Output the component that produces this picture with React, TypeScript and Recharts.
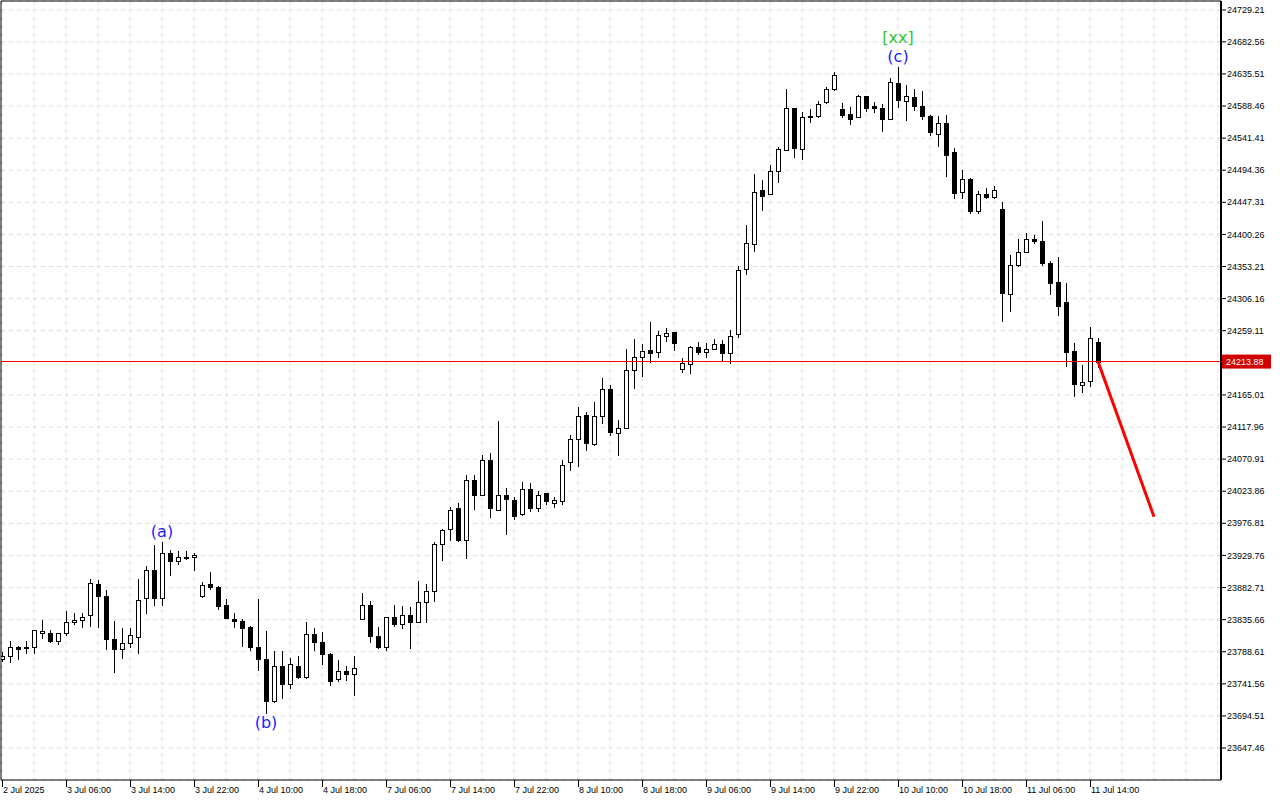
import { ComposedChart, Bar, Line, XAxis, YAxis, CartesianGrid, ReferenceLine, ReferenceDot } from "recharts";

// H1 bars, 2 Jul 2025 22:00 .. 11 Jul 2025 15:00
const OPEN = [
  23778, 23782, 23796, 23794, 23796, 23816, 23816, 23805, 23816, 23832,
  23835, 23842, 23888, 23871, 23807, 23792, 23801, 23810, 23868, 23909,
  23868, 23933, 23921, 23928, 23927, 23871, 23888, 23884, 23857, 23836,
  23834, 23825, 23795, 23778, 23717, 23767, 23741, 23768, 23752, 23814,
  23803, 23785, 23748, 23761, 23756, 23837, 23857, 23811, 23796, 23840,
  23829, 23842, 23832, 23862, 23878, 23947, 23969, 23999, 23952, 24041,
  24019, 24070, 23997, 24019, 24011, 23991, 24027, 23999, 24021, 24007,
  24010, 24066, 24100, 24136, 24093, 24134, 24174, 24109, 24117, 24201,
  24220, 24231, 24228, 24251, 24257, 24203, 24211, 24235, 24228, 24233,
  24239, 24227, 24254, 24349, 24386, 24465, 24459, 24493, 24524, 24585,
  24526, 24573, 24574, 24594, 24613, 24584, 24577, 24572, 24603, 24588,
  24585, 24570, 24622, 24596, 24602, 24589, 24574, 24548, 24563, 24521,
  24463, 24482, 24434, 24460, 24455, 24438, 24313, 24355, 24374, 24393,
  24391, 24359, 24330, 24301, 24229, 24179, 24186, 24242,
];
const HIGH = [
  23788, 23804, 23797, 23804, 23820, 23835, 23821, 23816, 23848, 23846,
  23846, 23895, 23894, 23879, 23834, 23824, 23824, 23895, 23914, 23945,
  23949, 23938, 23936, 23936, 23933, 23891, 23905, 23885, 23866, 23845,
  23836, 23827, 23866, 23819, 23790, 23790, 23779, 23783, 23832, 23823,
  23818, 23787, 23777, 23768, 23783, 23875, 23863, 23825, 23840, 23857,
  23856, 23854, 23892, 23888, 23949, 23969, 24001, 24006, 24047, 24047,
  24077, 24080, 24127, 24028, 24015, 24037, 24036, 24024, 24021, 24016,
  24070, 24106, 24147, 24140, 24154, 24190, 24180, 24128, 24233, 24247,
  24240, 24272, 24259, 24263, 24257, 24219, 24237, 24243, 24241, 24247,
  24245, 24260, 24354, 24414, 24489, 24480, 24502, 24529, 24613, 24585,
  24579, 24584, 24596, 24617, 24638, 24593, 24587, 24605, 24603, 24594,
  24591, 24630, 24645, 24619, 24613, 24610, 24575, 24574, 24576, 24527,
  24494, 24483, 24464, 24469, 24471, 24448, 24370, 24393, 24402, 24400,
  24420, 24361, 24367, 24329, 24241, 24209, 24265, 24248,
];
const LOW = [
  23773, 23772, 23777, 23786, 23786, 23808, 23801, 23799, 23812, 23828,
  23824, 23825, 23824, 23791, 23758, 23778, 23794, 23785, 23844, 23856,
  23856, 23900, 23915, 23923, 23907, 23867, 23879, 23850, 23838, 23824,
  23796, 23790, 23761, 23698, 23714, 23720, 23734, 23748, 23748, 23790,
  23769, 23739, 23744, 23746, 23723, 23837, 23801, 23792, 23790, 23825,
  23822, 23793, 23832, 23830, 23862, 23922, 23951, 23949, 23925, 23997,
  24019, 23984, 23997, 23959, 23982, 23987, 23994, 23994, 24004, 24000,
  24004, 24053, 24060, 24083, 24090, 24123, 24105, 24076, 24117, 24174,
  24191, 24212, 24219, 24242, 24230, 24197, 24195, 24223, 24219, 24231,
  24215, 24211, 24248, 24341, 24375, 24434, 24459, 24476, 24522, 24513,
  24510, 24564, 24571, 24591, 24610, 24571, 24561, 24572, 24579, 24578,
  24551, 24569, 24585, 24566, 24581, 24568, 24544, 24529, 24485, 24452,
  24452, 24430, 24430, 24452, 24452, 24272, 24287, 24353, 24373, 24386,
  24354, 24311, 24281, 24206, 24162, 24168, 24177, 24204,
];
const CLOSE = [
  23782, 23795, 23793, 23795, 23820, 23819, 23805, 23816, 23832, 23835,
  23839, 23889, 23871, 23808, 23792, 23802, 23813, 23865, 23909, 23867,
  23933, 23921, 23928, 23926, 23930, 23887, 23883, 23856, 23838, 23833,
  23824, 23795, 23778, 23717, 23767, 23741, 23770, 23752, 23814, 23803,
  23785, 23746, 23761, 23756, 23765, 23857, 23811, 23796, 23840, 23829,
  23842, 23832, 23862, 23878, 23947, 23967, 23997, 23952, 24041, 24019,
  24070, 23999, 24019, 24012, 23987, 24027, 23999, 24019, 24009, 24011,
  24063, 24101, 24134, 24095, 24134, 24173, 24110, 24116, 24201, 24220,
  24230, 24227, 24253, 24256, 24241, 24212, 24235, 24228, 24233, 24239,
  24227, 24251, 24348, 24387, 24463, 24457, 24493, 24525, 24585, 24527,
  24572, 24574, 24592, 24613, 24634, 24576, 24570, 24603, 24586, 24586,
  24570, 24623, 24597, 24603, 24589, 24574, 24550, 24564, 24517, 24461,
  24482, 24434, 24459, 24455, 24465, 24314, 24356, 24374, 24393, 24390,
  24359, 24329, 24295, 24228, 24181, 24184, 24248, 24213.88,
];

// one label every 8 bars
const TIME_LABELS = [
  "2 Jul 2025", "3 Jul 06:00", "3 Jul 14:00", "3 Jul 22:00", "4 Jul 10:00", "4 Jul 18:00",
  "7 Jul 06:00", "7 Jul 14:00", "7 Jul 22:00", "8 Jul 10:00", "8 Jul 18:00", "9 Jul 06:00",
  "9 Jul 14:00", "9 Jul 22:00", "10 Jul 10:00", "10 Jul 18:00", "11 Jul 06:00", "11 Jul 14:00",
];

const PRICE_TICKS = [
  24729.21, 24682.56, 24635.51, 24588.46, 24541.41, 24494.36, 24447.31, 24400.26,
  24353.21, 24306.16, 24259.11, 24165.01, 24117.96, 24070.91, 24023.86, 23976.81,
  23929.76, 23882.71, 23835.66, 23788.61, 23741.56, 23694.51, 23647.46,
];
const LAST_PRICE = 24213.88;

const FORECAST = [
  { i: 137, v: 24213.88 },
  { i: 144, v: 23986.5 },
];

const WAVE_LABELS = [
  { i: 20, text: "(a)", kind: "wave", below: false, stack: 0 },
  { i: 33, text: "(b)", kind: "wave", below: true, stack: 0 },
  { i: 112, text: "(c)", kind: "wave", below: false, stack: 0 },
  { i: 112, text: "[xx]", kind: "major", below: false, stack: 1 },
];

const X_MIN = -0.125;
const X_MAX = 152.375;
const Y_MIN = 23600.6;
const Y_MAX = 24742.4;

const X_TICKS = Array.from({ length: 39 }, (_, k) => k * 4);

const data = OPEN.map((o, i) => ({ i, open: o, high: HIGH[i], low: LOW[i], close: CLOSE[i] }));

const AXIS_FONT = "'Liberation Sans', Arial, sans-serif";

function Candle(props: any) {
  const { x, y, width, height, payload } = props;
  if (!payload || x == null) return null;
  const { open, close, high, low } = payload;
  const top = Math.min(y, y + height);
  const span = Math.abs(height);
  const k = high === low ? 0 : span / (high - low);
  const cx = Math.round(x + width / 2);
  const py = (v: number) => top + (high - v) * k;
  const bodyTop = Math.round(py(Math.max(open, close)));
  const bodyBot = Math.round(py(Math.min(open, close)));
  const up = close >= open;
  return (
    <g shapeRendering="crispEdges">
      <line x1={cx + 0.5} x2={cx + 0.5} y1={Math.round(top)} y2={Math.round(top + span)} stroke="#000" />
      <rect
        x={cx - 1.5}
        y={bodyTop + 0.5}
        width={4}
        height={Math.max(bodyBot - bodyTop, 1)}
        fill={up ? "#fff" : "#000"}
        stroke="#000"
      />
    </g>
  );
}

function TimeTick(props: any) {
  const { x, y, payload } = props;
  if (payload.value % 8 !== 0) return <g />;
  const label = TIME_LABELS[payload.value / 8];
  if (!label) return <g />;
  return (
    <g>
      <line x1={x + 0.5} x2={x + 0.5} y1={y} y2={y + 7} stroke="#000" shapeRendering="crispEdges" />
      <text x={x + 1} y={y + 13} fontSize={9} fontFamily={AXIS_FONT} fill="#000">
        {label}
      </text>
    </g>
  );
}

function PriceTick(props: any) {
  const { x, y, payload } = props;
  const v = payload.value as number;
  if (v === LAST_PRICE) {
    return (
      <g>
        <rect x={x + 1} y={y - 7} width={49} height={14} fill="#d00000" />
        <text x={x + 5} y={y} dy="0.35em" fontSize={9} fontFamily={AXIS_FONT} fill="#fff">
          {v.toFixed(2)}
        </text>
      </g>
    );
  }
  return (
    <g>
      <line x1={x} x2={x + 5} y1={y} y2={y} stroke="#000" />
      <text x={x + 6} y={y} dy="0.35em" fontSize={9} fontFamily={AXIS_FONT} fill="#000">
        {v.toFixed(2)}
      </text>
    </g>
  );
}

export default function App() {
  return (
    <div style={{ position: "absolute", left: 0, top: 0, width: 1280, height: 800, background: "#fff" }}>
      <ComposedChart width={1280} height={800} data={data} margin={{ top: 1, right: 0, bottom: 0, left: 1 }}>
        <CartesianGrid stroke="#dedede" strokeDasharray="4 4" />
        <XAxis
          dataKey="i"
          type="number"
          domain={[X_MIN, X_MAX]}
          ticks={X_TICKS}
          interval={0}
          allowDataOverflow
          height={20}
          tickSize={0}
          tickMargin={0}
          tickLine={false}
          axisLine={{ stroke: "#000" }}
          tick={(p: any) => <TimeTick {...p} />}
        />
        <YAxis
          orientation="right"
          type="number"
          domain={[Y_MIN, Y_MAX]}
          ticks={[...PRICE_TICKS, LAST_PRICE]}
          interval={0}
          allowDataOverflow
          width={59}
          tickSize={0}
          tickMargin={0}
          tickLine={false}
          axisLine={{ stroke: "#000", strokeWidth: 2 }}
          tick={(p: any) => <PriceTick {...p} />}
        />
        <ReferenceLine x={X_MIN} stroke="#000" />
        <ReferenceLine y={Y_MAX} stroke="#000" />
        <ReferenceLine y={LAST_PRICE} stroke="#ff0000" strokeWidth={1} shapeRendering="crispEdges" />
        <Bar
          dataKey={(d: any) => [d.low, d.high]}
          barSize={5}
          shape={(p: any) => <Candle {...p} />}
          isAnimationActive={false}
        />
        <Line
          data={FORECAST}
          dataKey="v"
          type="linear"
          stroke="#ff0000"
          strokeWidth={3}
          dot={false}
          activeDot={false}
          isAnimationActive={false}
        />
        {WAVE_LABELS.map((w) => (
          <ReferenceDot
            key={w.text}
            x={w.i}
            y={w.below ? LOW[w.i] : HIGH[w.i]}
            r={0}
            shape={(p: any) => (
              <text
                x={p.cx}
                y={w.below ? p.cy + 14 : p.cy - 5 - w.stack * 19}
                textAnchor="middle"
                fontSize={16}
                fontFamily="'DejaVu Sans', sans-serif"
                fill={w.kind === "major" ? "#35c435" : "#1c1cff"}
              >
                {w.text}
              </text>
            )}
          />
        ))}
      </ComposedChart>
    </div>
  );
}
